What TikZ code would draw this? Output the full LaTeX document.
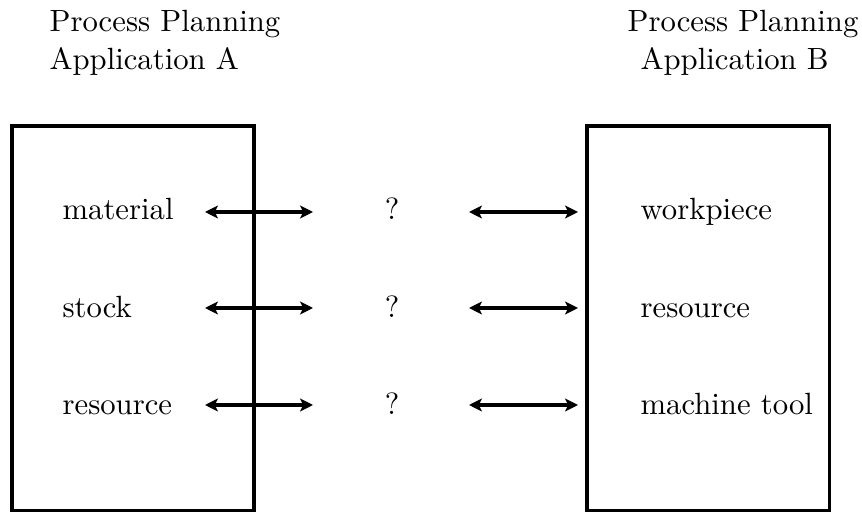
\documentclass[tikz,border=0pt]{standalone}
\usetikzlibrary{arrows.meta}
\begin{document}
\begin{tikzpicture}[x=0.3257pt,y=-0.3257pt,
  appbox/.style={line width=1pt},
  label/.style={anchor=base west,inner sep=0pt,font=\normalsize},
  query/.style={anchor=base,inner sep=0pt},
  link/.style={line width=1pt,{Stealth[length=4.2pt,width=4.2pt,inset=1pt]}-{Stealth[length=4.2pt,width=4.2pt,inset=1pt]}}]
  \useasboundingbox (0,0) rectangle (862,512);
  % application titles
  \node[label] (ta1) at (49,32) {Process Planning};
  \node[label] (ta2) at (49,70) {Application A};
  \node[label] (tb1) at (627,32) {Process Planning};
  \node[label] (tb2) at (640,70) {Application B};
  % application boxes
  \draw[appbox] (12,126) rectangle (254,510.5);
  \draw[appbox] (587,126) rectangle (829.5,510.5);
  % concepts of application A
  \node[label] (a1) at (62,220) {material};
  \node[label] (a2) at (62,318) {stock};
  \node[label] (a3) at (62,415) {resource};
  % concepts of application B
  \node[label] (b1) at (640,220) {workpiece};
  \node[label] (b2) at (640,318) {resource};
  \node[label] (b3) at (640,415) {machine tool};
  % unknown correspondences
  \node[query] (q1) at (392,220) {?};
  \node[query] (q2) at (392,318) {?};
  \node[query] (q3) at (392,415) {?};
  % arrow end points
  \foreach \i/\y in {1/212,2/308,3/405}{
    \coordinate (la\i) at (205,\y);
    \coordinate (lb\i) at (313,\y);
    \coordinate (ra\i) at (469,\y);
    \coordinate (rb\i) at (578,\y);
    \draw[link] (la\i) -- (lb\i);
    \draw[link] (ra\i) -- (rb\i);
  }
\end{tikzpicture}
\end{document}
